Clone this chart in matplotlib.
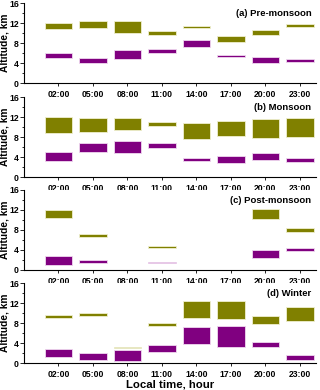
import matplotlib
matplotlib.use('Agg')
import matplotlib.pyplot as plt
import numpy as np
from matplotlib.ticker import MultipleLocator

plt.rcParams['font.family'] = ['Liberation Sans', 'DejaVu Sans']
plt.rcParams['font.weight'] = 'bold'

hours = [2, 5, 8, 11, 14, 17, 20, 23]
hour_labels = ['02:00', '05:00', '08:00', '11:00', '14:00', '17:00', '20:00', '23:00']
seasons = ['(a) Pre-monsoon', '(b) Monsoon', '(c) Post-monsoon', '(d) Winter']

nan = np.nan
# upper layer (olive): bottom / top, km
upper_bottom = [
    [10.8, 11.07, 9.93, 9.6, 10.93, 8.2, 9.6, 11.2],
    [8.8, 8.93, 9.47, 10.27, 7.53, 8.2, 7.87, 8.0],
    [10.4, 6.53, nan, 4.4, nan, nan, 10.13, 7.6],
    [9.07, 9.4, 2.93, 7.4, 9.0, 8.8, 7.73, 8.4],
]
upper_top = [
    [12.0, 12.33, 12.47, 10.33, 11.33, 9.4, 10.67, 11.8],
    [12.07, 11.73, 11.87, 10.93, 10.8, 11.13, 11.53, 11.87],
    [12.0, 7.27, nan, 4.87, nan, nan, 12.13, 8.47],
    [9.67, 10.0, 3.2, 7.93, 12.47, 12.47, 9.33, 11.13],
]
# lower layer (purple): bottom / top, km
lower_bottom = [
    [5.07, 4.0, 4.87, 6.0, 7.13, 5.27, 4.07, 4.13],
    [3.27, 5.07, 4.87, 5.73, 3.2, 2.8, 3.47, 3.07],
    [1.07, 1.4, nan, 1.33, nan, nan, 2.4, 3.87],
    [1.27, 0.67, 0.47, 2.13, 3.8, 3.27, 3.27, 0.67],
]
lower_top = [
    [6.0, 5.07, 6.53, 6.73, 8.67, 5.6, 5.27, 4.8],
    [5.0, 6.73, 7.13, 6.87, 3.73, 4.27, 4.8, 3.87],
    [2.87, 2.0, nan, 1.6, nan, nan, 3.93, 4.4],
    [2.73, 2.0, 2.53, 3.6, 7.2, 7.4, 4.27, 1.53],
]

fig = plt.figure(figsize=(3.2, 3.9), dpi=100)
bottoms = [0.787, 0.546, 0.308, 0.069]
for i in range(4):
    ax = fig.add_axes([0.075, bottoms[i], 0.9125, 0.205])
    ub = np.array(upper_bottom[i])
    ut = np.array(upper_top[i])
    lb = np.array(lower_bottom[i])
    lt = np.array(lower_top[i])
    ax.bar(hours, ut - ub, bottom=ub, width=2.4, color='#808000', edgecolor='#f0f0d0', linewidth=0.6)
    ax.bar(hours, lt - lb, bottom=lb, width=2.4, color='#800080', edgecolor='#f0d8f0', linewidth=0.6)
    ax.set_xlim(-1, 24.4)
    ax.set_ylim(0, 16)
    ax.set_yticks([0, 4, 8, 12, 16])
    ax.yaxis.set_minor_locator(MultipleLocator(2))
    ax.set_xticks(hours)
    ax.set_xticklabels(hour_labels)
    ax.spines['top'].set_visible(False)
    ax.spines['right'].set_visible(False)
    ax.tick_params(axis='both', labelsize=6.2, length=3, width=0.6, pad=0.6)
    ax.tick_params(axis='y', which='minor', length=1.5, width=0.6)
    ax.tick_params(axis='x', length=2, pad=3)
    for lab in ax.get_xticklabels() + ax.get_yticklabels():
        lab.set_fontweight('bold')
    ax.set_ylabel('Altitude, km', fontsize=7.3, fontweight='bold')
    ax.yaxis.set_label_coords(-0.048, 0.5)
    ax.text(0.985, 0.93, seasons[i], transform=ax.transAxes, ha='right', va='top',
            fontsize=6.8, fontweight='bold')
    if i == 3:
        ax.set_xlabel('Local time, hour', fontsize=8.2, fontweight='bold', labelpad=0.5)

fig.savefig('out.png', dpi=100)
